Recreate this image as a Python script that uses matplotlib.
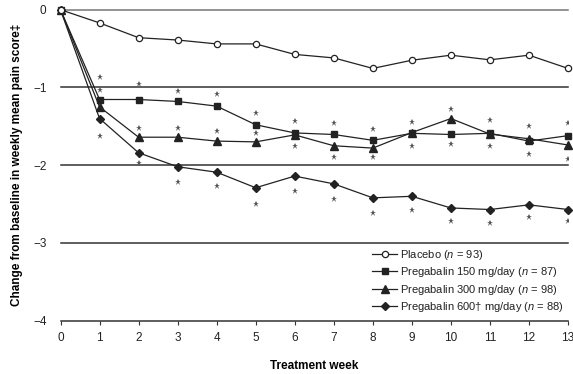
import matplotlib
matplotlib.use("Agg")
import matplotlib.pyplot as plt

weeks = list(range(0, 14))
placebo = [0, -0.17, -0.36, -0.39, -0.44, -0.44, -0.575, -0.62, -0.755, -0.65, -0.585, -0.645, -0.585, -0.755]
preg150 = [0, -1.155, -1.155, -1.18, -1.24, -1.48, -1.585, -1.605, -1.68, -1.59, -1.605, -1.59, -1.69, -1.62]
preg300 = [0, -1.25, -1.64, -1.64, -1.69, -1.70, -1.61, -1.75, -1.78, -1.58, -1.40, -1.60, -1.66, -1.74]
preg600 = [0, -1.40, -1.84, -2.02, -2.09, -2.29, -2.14, -2.24, -2.42, -2.40, -2.55, -2.57, -2.51, -2.57]

star_weeks = list(range(1, 14))
star_150 = [-0.86, -0.95, -1.05, -1.09, -1.335, -1.43, -1.46, -1.53, -1.44, -1.28, -1.425, -1.50, -1.46]
star_300 = [-1.03, -1.52, -1.52, -1.56, -1.59, -1.756, -1.89, -1.90, -1.75, -1.73, -1.756, -1.86, -1.92]
star_600 = [-1.63, -1.97, -2.22, -2.27, -2.50, -2.33, -2.43, -2.62, -2.57, -2.72, -2.74, -2.67, -2.72]

labels = [r"Placebo ($n$ = 93)",
          r"Pregabalin 150 mg/day ($n$ = 87)",
          r"Pregabalin 300 mg/day ($n$ = 98)",
          r"Pregabalin 600† mg/day ($n$ = 88)"]
yticks = [0, -1, -2, -3, -4]
ytick_labels = ["0", "\u22121", "\u22122", "\u22123", "\u22124"]

plt.rcParams['font.family'] = ['Liberation Sans', 'DejaVu Sans']
plt.rcParams['mathtext.fontset'] = 'custom'
plt.rcParams['mathtext.it'] = 'Liberation Sans:italic'
plt.rcParams['mathtext.rm'] = 'Liberation Sans'

fig = plt.figure(figsize=(5.73, 3.74), dpi=100)
ax = fig.add_axes([60.5/573, 1-320.7/374, (568-60.5)/573, (320.7-9.7)/374])
ax.set_xlim(0, 13)
ax.set_ylim(-4, 0)

for y in [0, -1, -2, -3]:
    ax.axhline(y, color='#333333' if y != 0 else '#777777', lw=1.1, zorder=1, clip_on=False)

lc = '#222222'
ax.plot(weeks, placebo, color=lc, lw=0.9, marker='o', ms=4.5, mfc='white', mec=lc, mew=0.9, label=labels[0], clip_on=False, zorder=5)
ax.plot(weeks, preg150, color=lc, lw=0.9, marker='s', ms=5, mfc=lc, mec=lc, label=labels[1], clip_on=False, zorder=4)
ax.plot(weeks, preg300, color=lc, lw=0.9, marker='^', ms=5.5, mfc=lc, mec=lc, label=labels[2], clip_on=False, zorder=4)
ax.plot(weeks, preg600, color=lc, lw=0.9, marker='D', ms=4, mfc=lc, mec=lc, label=labels[3], clip_on=False, zorder=4)

for s in [star_150, star_300, star_600]:
    ax.plot(star_weeks, s, ls='none', marker='*', ms=5, color='#555555', mew=0, zorder=3)

for sp in ['left', 'right', 'top']:
    ax.spines[sp].set_visible(False)
ax.spines['bottom'].set_color('#333333')
ax.spines['bottom'].set_linewidth(1.1)

ax.set_xticks(weeks)
ax.set_xticklabels([str(w) for w in weeks])
ax.set_yticks(yticks)
ax.set_yticklabels(ytick_labels)
ax.tick_params(axis='y', length=0, pad=10, labelsize=8.5, labelcolor='#222222')
ax.tick_params(axis='x', length=3, direction='out', pad=5, labelsize=8.5, labelcolor='#222222', color='#333333')

ax.set_xlabel("Treatment week", fontsize=8.5, fontweight='bold', labelpad=12)
ax.set_ylabel("Change from baseline in weekly mean pain score\u2021", fontsize=8.5, fontweight='bold', labelpad=7)

leg = ax.legend(loc='lower right', bbox_to_anchor=(1.005, 0.0), frameon=False, fontsize=8,
                handlelength=2.2, handletextpad=0.3, labelspacing=0.3, borderaxespad=0.2)
for t in leg.get_texts():
    t.set_color('#222222')

fig.savefig("out.png", dpi=100)
